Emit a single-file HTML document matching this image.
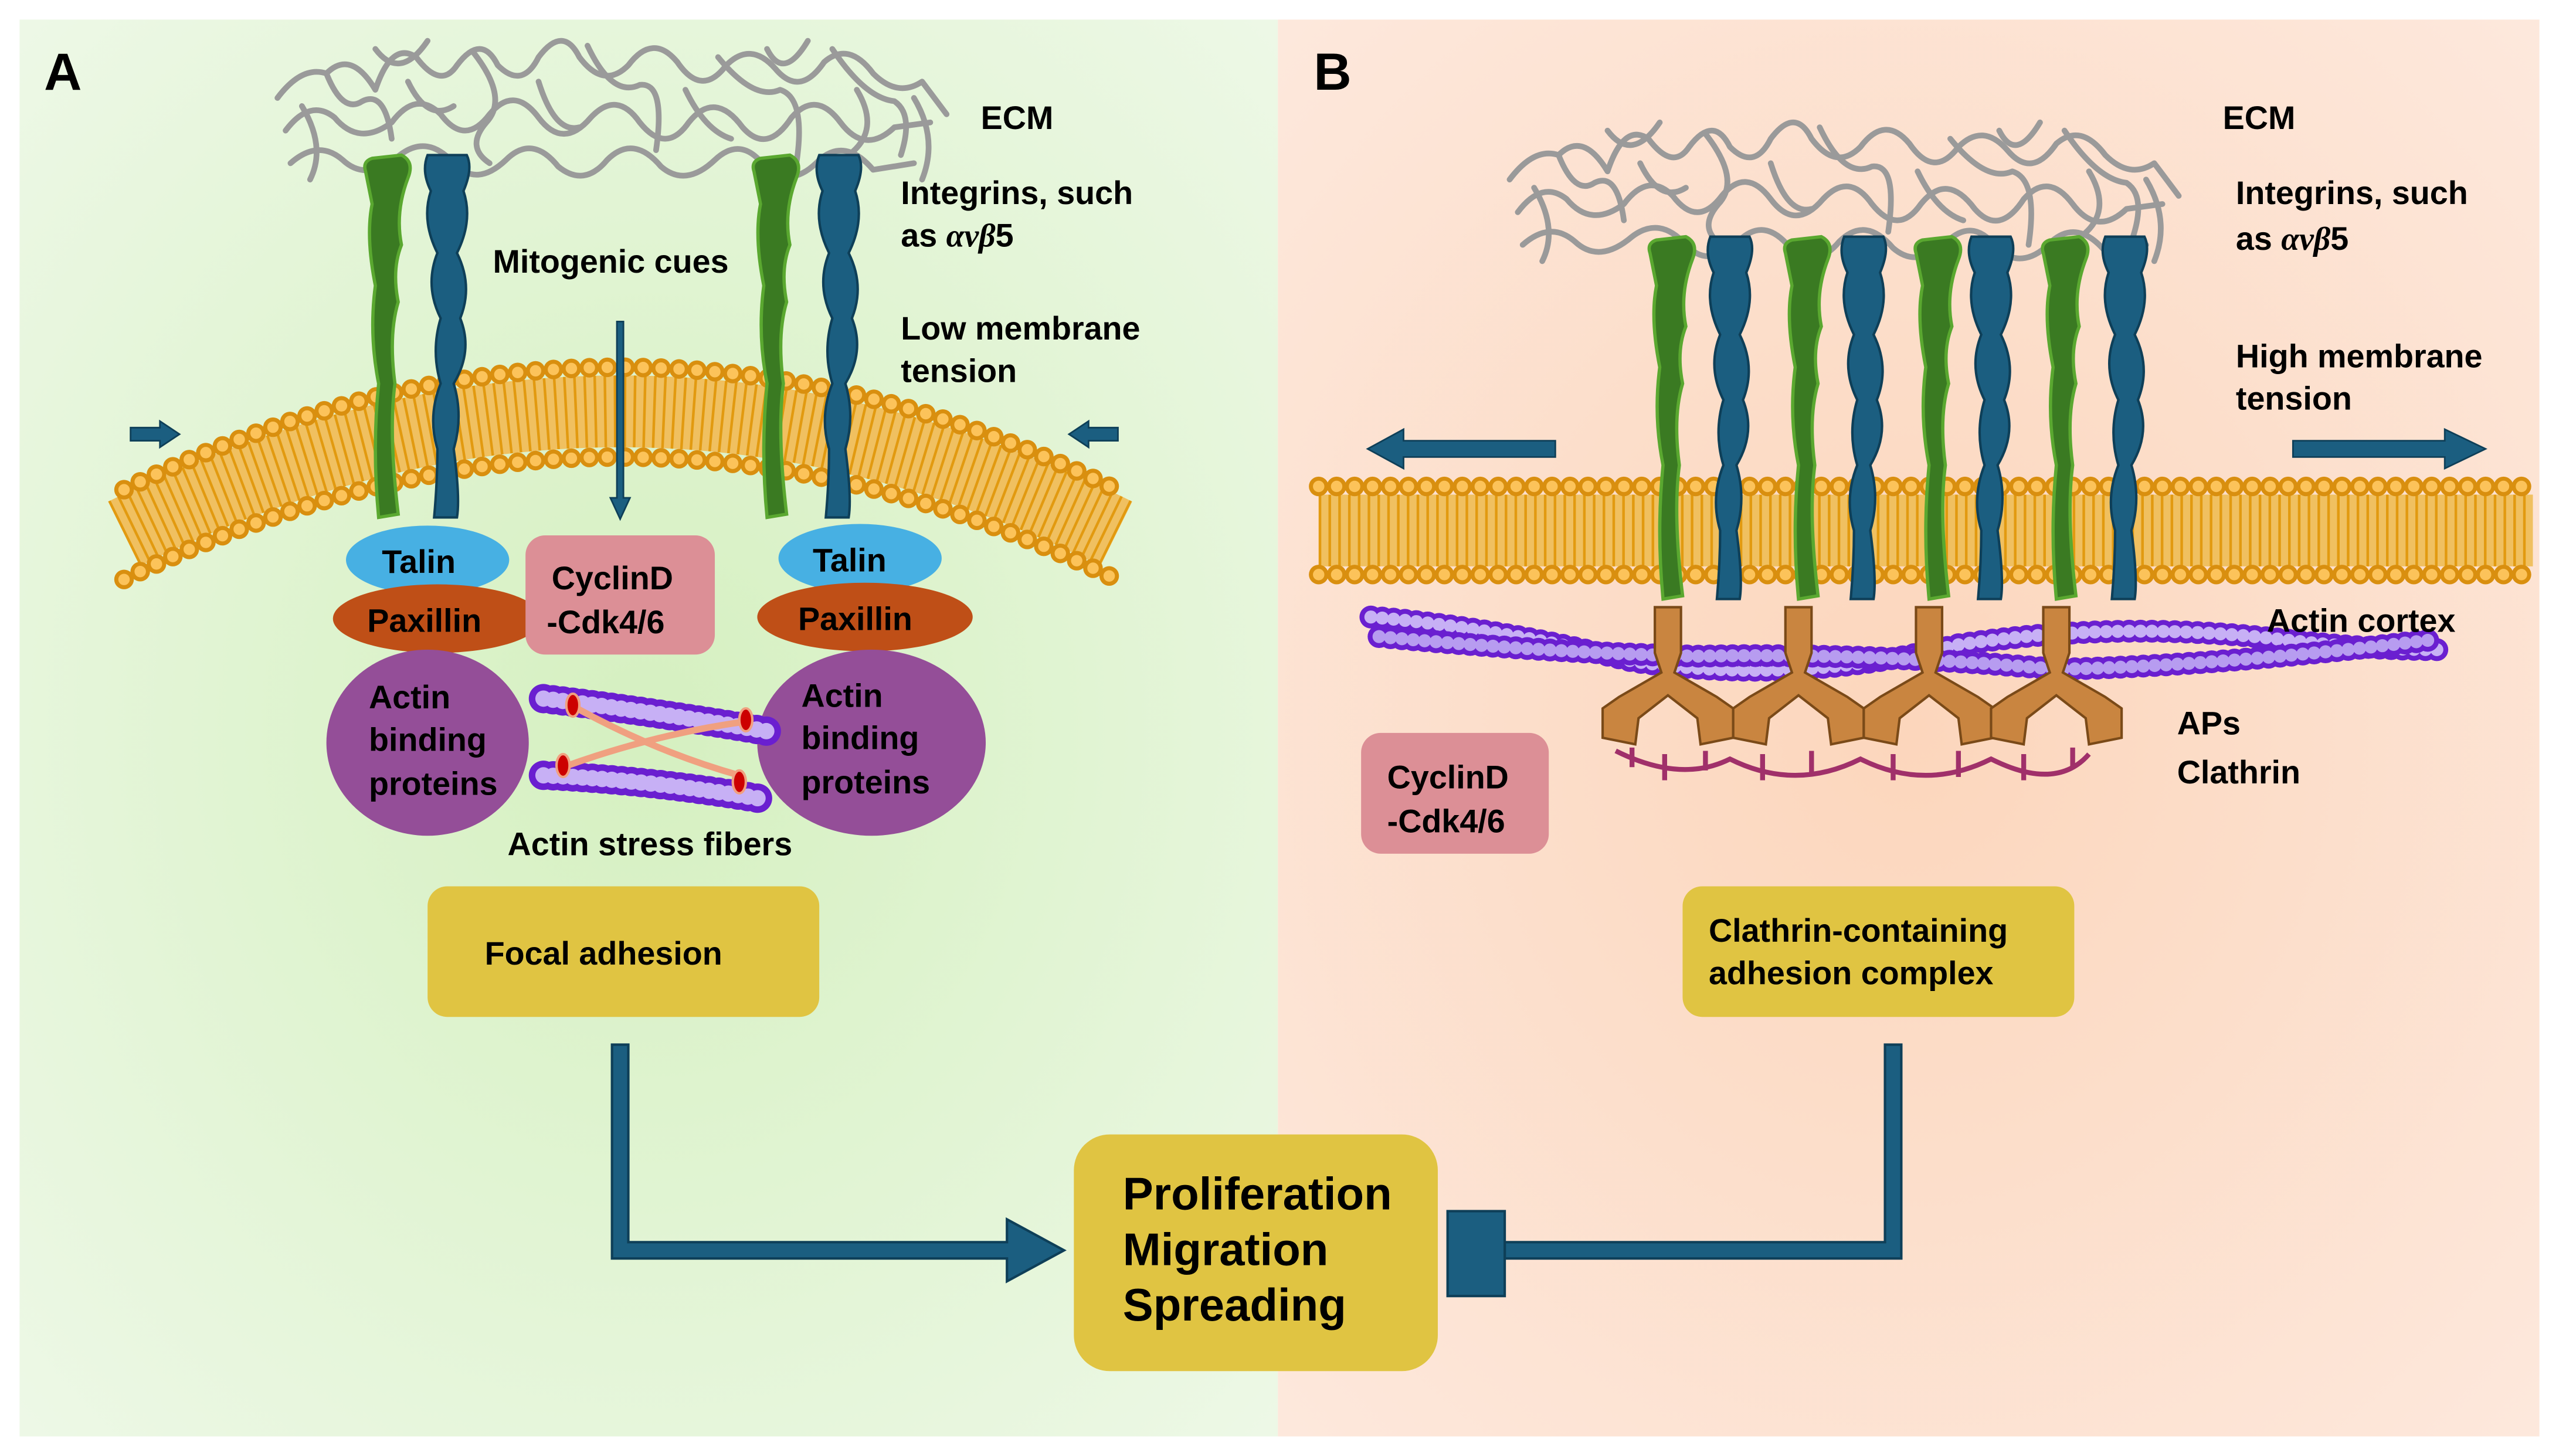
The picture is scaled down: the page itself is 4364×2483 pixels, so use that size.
<!DOCTYPE html>
<html><head><meta charset="utf-8"><style>
html,body{margin:0;padding:0;background:#fff}
svg{display:block}
text{font-family:"Liberation Sans",sans-serif;font-weight:bold;fill:#000}
</style></head><body>
<svg width="4364" height="2483" viewBox="0 0 1568 892" preserveAspectRatio="none" xmlns="http://www.w3.org/2000/svg">
<defs>
<radialGradient id="gA" cx="0.5" cy="0.5" r="0.7"><stop offset="0" stop-color="#d5f0c0"/><stop offset="1" stop-color="#edf8e6"/></radialGradient>
<radialGradient id="gB" cx="0.5" cy="0.5" r="0.7"><stop offset="0" stop-color="#fcd6bc"/><stop offset="1" stop-color="#fde8dc"/></radialGradient>
<g id="green"><path d="M-14,0 Q-16,-6 -10,-8 L8,-10 Q16,-6 12,4 Q4,25 8,45 Q2,60 6,80 Q0,100 4,130 Q0,160 6,210 L-6,212 Q-10,170 -6,130 Q-12,100 -8,70 Q-14,40 -10,20 Z" fill="#3a7a22" stroke="#5aa830" stroke-width="2"/></g>
<g id="blue"><path d="M-10,-10 L14,-10 Q18,-2 12,12 Q18,30 8,50 Q18,70 10,90 Q18,110 6,130 Q12,150 6,170 Q10,200 8,212 L-6,212 Q-4,190 -4,170 Q-10,150 -2,130 Q-8,110 -2,90 Q-12,70 -4,50 Q-14,30 -8,12 Q-14,0 -10,-10 Z" fill="#1b5e80" stroke="#0e3f58" stroke-width="1.5"/></g>
<g id="ap"><path d="M-8,0 L8,0 L8,28 L4,40 L30,55 L40,62 L40,80 L20,84 L18,68 L0,54 L-18,68 L-20,84 L-40,80 L-40,62 L-30,55 L-4,40 L-8,28 Z" fill="#c98540" stroke="#7a4a18" stroke-width="1.5"/></g>
<g id="ecm" fill="none" stroke="#9a9a9a" stroke-width="3.5" stroke-linejoin="round" stroke-linecap="round">
<path d="M170,60 Q185,40 200,45 Q215,30 230,55 Q240,25 255,35 Q270,55 280,40 Q295,20 305,40 Q320,55 330,35 Q345,15 355,35 Q370,55 385,40 Q400,20 415,38 Q430,60 445,40 Q460,25 475,42 Q490,60 505,38 Q520,25 535,45 Q550,60 565,50 L580,70"/>
<path d="M175,80 Q190,60 205,72 Q220,90 240,75 Q255,55 270,70 Q285,90 300,70 Q315,52 330,72 Q345,92 362,72 Q378,55 392,75 Q408,95 422,75 Q438,55 455,78 Q470,95 485,72 Q500,55 515,75 Q530,95 548,78 L570,75"/>
<path d="M178,100 Q195,85 210,98 Q225,112 245,95 Q262,82 278,100 Q292,115 310,98 Q326,82 342,102 Q358,115 372,98 Q388,82 405,102 Q420,115 438,98 Q455,82 470,104 Q486,115 502,98 Q518,84 535,104 L560,100"/>
<path d="M200,45 Q210,70 222,62 Q236,55 240,85 M290,32 Q312,60 298,75 Q285,90 300,100 M360,28 Q375,60 392,52 Q408,50 402,92 M440,35 Q462,62 478,55 Q494,60 488,100 M510,30 Q530,60 548,62 Q560,70 552,95 M250,50 Q262,75 278,65 M330,50 Q340,82 355,78 M420,55 Q432,80 448,85 M525,55 Q540,80 520,95"/>
<path d="M185,65 Q200,90 190,110 M560,60 Q575,85 565,110 M230,30 Q245,50 262,25 M470,30 Q480,50 495,25"/>
</g>
</defs>
<rect width="1568" height="892" fill="#fff"/>
<rect x="12" y="12" width="771" height="868" fill="url(#gA)"/>
<rect x="783" y="12" width="773" height="868" fill="url(#gB)"/>

<use href="#ecm"/>
<use href="#ecm" transform="translate(755,50)"/>

<!-- Membrane A -->
<g fill="none">
<path d="M76,327 Q380,177 684,327" stroke="#f0c060" stroke-width="44"/>
<path d="M76,327 Q380,177 684,327" stroke="#e29a10" stroke-width="44" stroke-dasharray="1.6 4.4"/>
<path d="M76,300 Q380,150 684,300" stroke="#d98f0f" stroke-width="12" stroke-linecap="round" stroke-dasharray="0 11"/>
<path d="M76,300 Q380,150 684,300" stroke="#fcc35a" stroke-width="7" stroke-linecap="round" stroke-dasharray="0 11"/>
<path d="M76,355 Q380,205 684,355" stroke="#d98f0f" stroke-width="12" stroke-linecap="round" stroke-dasharray="0 11"/>
<path d="M76,355 Q380,205 684,355" stroke="#fcc35a" stroke-width="7" stroke-linecap="round" stroke-dasharray="0 11"/>
</g>
<!-- Membrane B -->
<g fill="none">
<path d="M808,325 L1552,325" stroke="#f0c060" stroke-width="44"/>
<path d="M808,325 L1552,325" stroke="#e29a10" stroke-width="44" stroke-dasharray="1.6 4.4"/>
<path d="M808,298 L1552,298" stroke="#d98f0f" stroke-width="12" stroke-linecap="round" stroke-dasharray="0 11"/>
<path d="M808,298 L1552,298" stroke="#fcc35a" stroke-width="7" stroke-linecap="round" stroke-dasharray="0 11"/>
<path d="M808,352 L1552,352" stroke="#d98f0f" stroke-width="12" stroke-linecap="round" stroke-dasharray="0 11"/>
<path d="M808,352 L1552,352" stroke="#fcc35a" stroke-width="7" stroke-linecap="round" stroke-dasharray="0 11"/>
</g>

<!-- Integrins A -->
<use href="#green" transform="translate(238,105)"/>
<use href="#blue" transform="translate(272,105)"/>
<use href="#green" transform="translate(476,105)"/>
<use href="#blue" transform="translate(512,105)"/>

<!-- Actin cortex B -->
<g fill="none" stroke-linecap="round">
<path d="M840,378 Q920,385 1000,405 Q1100,420 1200,395 Q1300,380 1400,392 Q1450,398 1495,398" stroke="#6a1fd0" stroke-width="14" stroke-dasharray="0 7"/>
<path d="M840,378 Q920,385 1000,405 Q1100,420 1200,395 Q1300,380 1400,392 Q1450,398 1495,398" stroke="#c7b0f5" stroke-width="8" stroke-dasharray="0 7"/>
<path d="M845,390 Q950,400 1040,402 Q1150,400 1260,410 Q1360,408 1490,392" stroke="#6a1fd0" stroke-width="14" stroke-dasharray="0 7"/>
<path d="M845,390 Q950,400 1040,402 Q1150,400 1260,410 Q1360,408 1490,392" stroke="#b79cf0" stroke-width="8" stroke-dasharray="0 7"/>
</g>
<!-- Integrins B -->
<use href="#green" transform="translate(1025,155)"/>
<use href="#blue" transform="translate(1058,155)"/>
<use href="#green" transform="translate(1108,155)"/>
<use href="#blue" transform="translate(1140,155)"/>
<use href="#green" transform="translate(1188,155)"/>
<use href="#blue" transform="translate(1218,155)"/>
<use href="#green" transform="translate(1266,155)"/>
<use href="#blue" transform="translate(1300,155)"/>
<!-- clathrin -->
<g fill="none" stroke="#a0306a" stroke-width="3">
<path d="M990,460 Q1030,480 1060,465 Q1100,485 1140,465 Q1180,485 1220,465 Q1260,485 1280,462"/>
<path d="M1000,470 L1000,458 M1020,478 L1020,462 M1045,472 L1045,460 M1080,478 L1080,462 M1110,475 L1110,460 M1160,478 L1160,462 M1200,476 L1200,460 M1240,478 L1240,462 M1270,470 L1270,458"/>
</g>
<use href="#ap" transform="translate(1022,372)"/>
<use href="#ap" transform="translate(1102,372)"/>
<use href="#ap" transform="translate(1182,372)"/>
<use href="#ap" transform="translate(1260,372)"/>

<!-- A components -->
<ellipse cx="262" cy="343" rx="50" ry="21" fill="#47b0e3"/>
<ellipse cx="268" cy="379" rx="64" ry="21" fill="#bf4f17"/>
<ellipse cx="527" cy="342" rx="50" ry="21" fill="#47b0e3"/>
<ellipse cx="530" cy="378" rx="66" ry="21" fill="#bf4f17"/>
<ellipse cx="262" cy="455" rx="62" ry="57" fill="#944e98"/>
<ellipse cx="534" cy="455" rx="70" ry="57" fill="#944e98"/>
<rect x="322" y="328" width="116" height="73" rx="12" fill="#dc8f96"/>
<!-- stress fibers -->
<g fill="none" stroke-linecap="round">
<path d="M333,428 Q400,436 470,448" stroke="#6a1fd0" stroke-width="18" stroke-dasharray="0 6"/>
<path d="M333,428 Q400,436 470,448" stroke="#c7b0f5" stroke-width="10" stroke-dasharray="0 6"/>
<path d="M333,475 Q400,478 470,490" stroke="#6a1fd0" stroke-width="18" stroke-dasharray="0 6"/>
<path d="M333,475 Q400,478 470,490" stroke="#c7b0f5" stroke-width="10" stroke-dasharray="0 6"/>
<path d="M350,432 Q400,460 453,475 M345,470 Q400,450 457,442" stroke="#f0a080" stroke-width="4"/>
</g>
<g fill="#c00" stroke="#f0a080" stroke-width="1.5">
<ellipse cx="351" cy="432" rx="4" ry="7"/><ellipse cx="457" cy="441" rx="4" ry="7"/>
<ellipse cx="345" cy="469" rx="4" ry="7"/><ellipse cx="453" cy="479" rx="4" ry="7"/>
</g>

<!-- small arrows A -->
<path d="M80,262 L98,262 L98,258 L110,266 L98,274 L98,270 L80,270 Z" fill="#1b5e80" stroke="#0e3f58"/>
<path d="M685,262 L667,262 L667,258 L655,266 L667,274 L667,270 L685,270 Z" fill="#1b5e80" stroke="#0e3f58"/>
<!-- mitogenic arrow -->
<path d="M378,197 L382,197 L382,305 L386,305 L380,318 L374,305 L378,305 Z" fill="#1b5e80" stroke="#0e3f58"/>
<!-- big arrows B -->
<path d="M953,270 L860,270 L860,263 L838,275 L860,287 L860,280 L953,280 Z" fill="#1b5e80" stroke="#0e3f58"/>
<path d="M1405,270 L1498,270 L1498,263 L1523,275 L1498,287 L1498,280 L1405,280 Z" fill="#1b5e80" stroke="#0e3f58"/>

<rect x="834" y="449" width="115" height="74" rx="12" fill="#dc8f96"/>

<!-- boxes -->
<rect x="262" y="543" width="240" height="80" rx="12" fill="#e0c442"/>
<rect x="1031" y="543" width="240" height="80" rx="12" fill="#e0c442"/>
<rect x="658" y="695" width="223" height="145" rx="22" fill="#e0c442"/>

<!-- connectors -->
<path d="M375,640 L385,640 L385,761 L617,761 L617,747 L652,766 L617,785 L617,771 L375,771 Z" fill="#1b5e80" stroke="#0e3f58" stroke-width="1.5"/>
<path d="M1155,640 L1165,640 L1165,771 L922,771 L922,761 L1155,761 Z" fill="#1b5e80" stroke="#0e3f58" stroke-width="1.5"/>
<rect x="887" y="742" width="35" height="52" fill="#1b5e80" stroke="#0e3f58" stroke-width="1.5"/>

<!-- text -->
<text x="27" y="55" font-size="32">A</text>
<text x="805" y="55" font-size="32">B</text>
<g font-size="20">
<text x="601" y="79">ECM</text>
<text x="552" y="125">Integrins, such</text>
<text x="552" y="151">as <tspan font-style="italic" font-family="Liberation Serif">αvβ</tspan>5</text>
<text x="302" y="167">Mitogenic cues</text>
<text x="552" y="208">Low membrane</text>
<text x="552" y="234">tension</text>
<text x="234" y="351">Talin</text>
<text x="225" y="387">Paxillin</text>
<text x="338" y="361">CyclinD</text>
<text x="335" y="388">-Cdk4/6</text>
<text x="498" y="350">Talin</text>
<text x="489" y="386">Paxillin</text>
<text x="226" y="434">Actin</text>
<text x="226" y="460">binding</text>
<text x="226" y="487">proteins</text>
<text x="491" y="433">Actin</text>
<text x="491" y="459">binding</text>
<text x="491" y="486">proteins</text>
<text x="311" y="524">Actin stress fibers</text>
<text x="297" y="591">Focal adhesion</text>
<text x="1362" y="79">ECM</text>
<text x="1370" y="125">Integrins, such</text>
<text x="1370" y="153">as <tspan font-style="italic" font-family="Liberation Serif">αvβ</tspan>5</text>
<text x="1370" y="225">High membrane</text>
<text x="1370" y="251">tension</text>
<text x="1389" y="387">Actin cortex</text>
<text x="1334" y="450">APs</text>
<text x="1334" y="480">Clathrin</text>
<text x="850" y="483">CyclinD</text>
<text x="850" y="510">-Cdk4/6</text>
<text x="1047" y="577">Clathrin-containing</text>
<text x="1047" y="603">adhesion complex</text>
</g>
<g font-size="28">
<text x="688" y="741">Proliferation</text>
<text x="688" y="775">Migration</text>
<text x="688" y="809">Spreading</text>
</g>
</svg>
</body></html>
